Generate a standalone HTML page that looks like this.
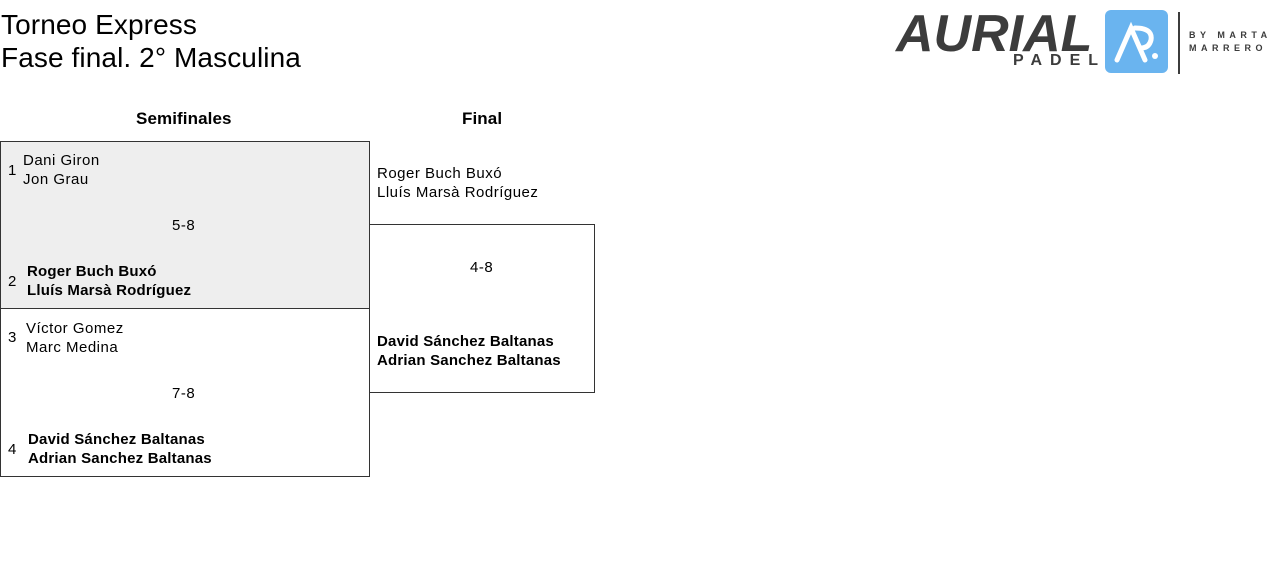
<!DOCTYPE html>
<html><head><meta charset="utf-8"><style>
body{margin:0;width:1280px;height:562px;background:#fff;font-family:"Liberation Sans",sans-serif;color:#000;position:relative;overflow:hidden}
.a{position:absolute;white-space:nowrap}
.t{font-size:28px;line-height:33px;left:1px;letter-spacing:0.1px}
.h{font-size:17px;font-weight:bold;letter-spacing:0.1px}
.n{font-size:15px;line-height:19px;letter-spacing:0.5px}
.b{font-weight:bold;letter-spacing:0.2px}
.box{position:absolute;border:1px solid #333;box-sizing:border-box}
</style></head><body>
<div class="a t" style="top:8px">Torneo Express</div>
<div class="a t" style="top:41px">Fase final. 2° Masculina</div>

<div class="a" style="left:896px;top:4px;font-size:52px;font-weight:bold;font-style:italic;color:#3c3c3c;letter-spacing:0px">AURIAL</div>
<div class="a" style="left:1013px;top:52px;font-size:16px;font-weight:bold;color:#3c3c3c;letter-spacing:8px">PADEL</div>
<div class="a" style="left:1105px;top:10px;width:63px;height:63px;background:#6ab4ef;border-radius:6px"></div>
<svg class="a" style="left:1105px;top:10px" width="63" height="63"><path d="M12 50 L26 18 L40 50 M30 18 Q48 18 46 30 Q44 38 36 38" stroke="#fff" stroke-width="5" fill="none" stroke-linecap="round"/><circle cx="50" cy="46" r="3" fill="#fff"/></svg>
<div class="a" style="left:1178px;top:12px;width:2px;height:62px;background:#3c3c3c"></div>
<div class="a" style="left:1189px;top:29px;font-size:9px;line-height:13px;color:#3c3c3c;letter-spacing:4.5px;font-weight:bold">BY MARTA<br>MARRERO</div>

<div class="a h" style="left:136px;top:109px">Semifinales</div>
<div class="a h" style="left:462px;top:109px">Final</div>

<div class="box" style="left:0;top:141px;width:370px;height:168px;background:#eee"></div>
<div class="box" style="left:0;top:308px;width:370px;height:169px"></div>
<div class="box" style="left:369px;top:224px;width:226px;height:169px"></div>

<div class="a n" style="left:8px;top:161px">1</div>
<div class="a n" style="left:23px;top:151px">Dani Giron<br>Jon Grau</div>
<div class="a n" style="left:172px;top:216px">5-8</div>
<div class="a n" style="left:8px;top:272px">2</div>
<div class="a n b" style="left:27px;top:262px">Roger Buch Buxó<br>Lluís Marsà Rodríguez</div>

<div class="a n" style="left:8px;top:328px">3</div>
<div class="a n" style="left:26px;top:319px">Víctor Gomez<br>Marc Medina</div>
<div class="a n" style="left:172px;top:384px">7-8</div>
<div class="a n" style="left:8px;top:440px">4</div>
<div class="a n b" style="left:28px;top:430px">David Sánchez Baltanas<br>Adrian Sanchez Baltanas</div>

<div class="a n" style="left:377px;top:164px">Roger Buch Buxó<br>Lluís Marsà Rodríguez</div>
<div class="a n" style="left:470px;top:258px">4-8</div>
<div class="a n b" style="left:377px;top:332px">David Sánchez Baltanas<br>Adrian Sanchez Baltanas</div>
</body></html>
